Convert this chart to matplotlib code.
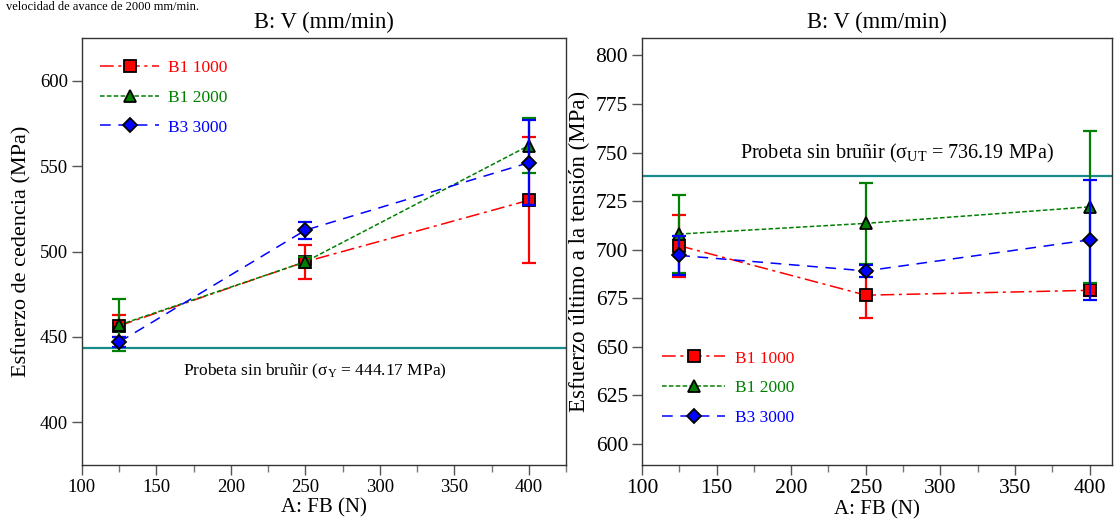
import numpy as np
import matplotlib
matplotlib.use("Agg")
import matplotlib.pyplot as plt
from matplotlib.ticker import MultipleLocator

plt.rcParams['font.family'] = ['Liberation Serif', 'DejaVu Serif']
plt.rcParams['mathtext.fontset'] = 'custom'
plt.rcParams['mathtext.rm'] = 'Liberation Serif'
plt.rcParams['mathtext.it'] = 'Liberation Serif:italic'

# data
fb = [125, 250, 400]
series = ['B1 1000', 'B1 2000', 'B3 3000']

# left: yield stress
yld_b1 = [456.5, 494, 530]
yld_b1_err = [6.5, 10, 37]
yld_b2 = [457, 494, 562]
yld_b2_err = [15, 3, 16]
yld_b3 = [447, 512.5, 552]
yld_b3_err = [3, 5, 25]
yld_ref = 443.5

# right: ultimate tensile stress
uts_b1 = [702, 676.5, 679]
uts_b1_err = [16, 12, 3]
uts_b2 = [708, 713.5, 722]
uts_b2_err = [20, 21, 39]
uts_b3 = [697, 689, 705]
uts_b3_err = [10, 3.3, 31]
uts_ref = 738

colors = ['#ff0000', '#008000', '#0000ff']
markers = ['s', '^', 'D']
msizes = [9, 9, 7.5]
styles = [(0, (9, 3, 2, 3)), (0, (3, 1.5)), (0, (7, 5))]

fig = plt.figure(figsize=(11.18, 5.27), dpi=100)
ax1 = fig.add_axes([0.0733, 0.1176, 0.4330, 0.8103])
ax2 = fig.add_axes([0.5742, 0.1176, 0.4204, 0.8103])

teal = '#1a8a8a'


def draw(ax, ys, errs):
    handles = []
    for y, e, c, m, ms, ls, lab in zip(ys, errs, colors, markers, msizes, styles, series):
        ax.errorbar(fb, y, yerr=e, fmt='none', ecolor=c, elinewidth=1.6,
                    capsize=5, capthick=1.6)
        h, = ax.plot(fb, y, color=c, linestyle=ls, linewidth=1.1, marker=m,
                     markersize=ms, markerfacecolor=c, markeredgecolor='black',
                     markeredgewidth=1.3, label=lab)
        handles.append(h)
    return handles


def style(ax, tsize):
    ax.xaxis.set_major_locator(MultipleLocator(50))
    ax.xaxis.set_minor_locator(MultipleLocator(25))
    ax.tick_params(axis='both', which='major', labelsize=tsize, direction='out',
                   length=7, width=1, color='#555555', pad=3)
    ax.tick_params(axis='x', which='minor', direction='out', length=5,
                   width=1, color='#777777')
    for s in ax.spines.values():
        s.set_color('#333333')
        s.set_linewidth(1)
    ax.set_xlabel('A: FB (N)', fontsize=15, labelpad=2)
    ax.set_title('B: V (mm/min)', fontsize=16.3, pad=7)


h1 = draw(ax1, [yld_b1, yld_b2, yld_b3], [yld_b1_err, yld_b2_err, yld_b3_err])
ax1.axhline(yld_ref, color=teal, linewidth=1.6, zorder=0)
ax1.annotate(r'Probeta sin bruñir (σ$_{\mathrm{Y}}$ = 444.17 MPa)',
             xy=(0.482, yld_ref), xycoords=('axes fraction', 'data'),
             xytext=(0, -10), textcoords='offset points',
             fontsize=12.5, ha='center', va='top')
ax1.set_xlim(100, 425)
ax1.set_ylim(375, 625)
ax1.yaxis.set_major_locator(MultipleLocator(50))
ax1.set_ylabel('Esfuerzo de cedencia (MPa)', fontsize=16, labelpad=6)
style(ax1, 13.5)
leg1 = ax1.legend(handles=h1, loc='upper left', bbox_to_anchor=(0.005, 0.985),
                  frameon=False, fontsize=12.5, handlelength=3.4, numpoints=1,
                  labelspacing=0.78, handletextpad=0.5)
for t, c in zip(leg1.get_texts(), colors):
    t.set_color(c)

h2 = draw(ax2, [uts_b1, uts_b2, uts_b3], [uts_b1_err, uts_b2_err, uts_b3_err])
ax2.axhline(uts_ref, color=teal, linewidth=1.6, zorder=0)
ax2.annotate(r'Probeta sin bruñir (σ$_{\mathrm{UT}}$ = 736.19 MPa)',
             xy=(0.543, uts_ref), xycoords=('axes fraction', 'data'),
             xytext=(0, 8), textcoords='offset points',
             fontsize=14.5, ha='center', va='bottom')
ax2.set_xlim(100, 415)
ax2.set_ylim(589, 809)
ax2.yaxis.set_major_locator(MultipleLocator(25))
ax2.set_ylabel('Esfuerzo último a la tensión (MPa)', fontsize=16.5, labelpad=4)
style(ax2, 15.5)
leg2 = ax2.legend(handles=h2, loc='lower left', bbox_to_anchor=(0.01, 0.055),
                  frameon=False, fontsize=12.5, handlelength=3.6, numpoints=1,
                  labelspacing=0.78, handletextpad=0.6)
for t, c in zip(leg2.get_texts(), colors):
    t.set_color(c)

# caption line at the very top of the picture
fig.text(0.005, 0.999, 'velocidad de avance de 2000 mm/min.', fontsize=9,
         ha='left', va='top')

fig.savefig('out.png', dpi=100)
